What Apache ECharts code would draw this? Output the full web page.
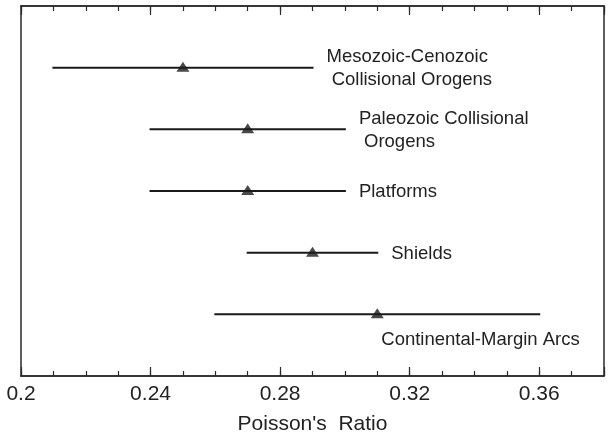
<!DOCTYPE html>
<html>
<head>
<meta charset="utf-8">
<script src="https://cdn.jsdelivr.net/npm/echarts@6/dist/echarts.min.js"></script>
<style>
  html, body { margin: 0; padding: 0; background: #fff; }
  #chart { width: 609px; height: 440px; }
</style>
</head>
<body>
<div id="chart"></div>
<script>
// Poisson's ratio ranges by crustal province
const provinces = [
  'Mesozoic-Cenozoic\n Collisional Orogens',
  'Paleozoic Collisional\n Orogens',
  'Platforms',
  'Shields',
  'Continental-Margin Arcs'
];
const lowValues  = [0.21, 0.24, 0.24, 0.27, 0.26];
const highValues = [0.29, 0.30, 0.30, 0.31, 0.36];
const meanValues = [0.25, 0.27, 0.27, 0.29, 0.31];
const xTickLabels = ['0.2', '0.24', '0.28', '0.32', '0.36'];

const X_MIN = 0.2, X_MAX = 0.38;
const INK = '#1a1a1a';
const FONT = '"Liberation Sans", Arial, sans-serif';

// row index along the vertical value axis (1..n), axis spans 0..n+1
const rows = provinces.map((_, i) => i + 1);
const rangeData = provinces.map((_, i) => [lowValues[i], highValues[i], meanValues[i], rows[i]]);
const meanData = provinces.map((_, i) => [meanValues[i], rows[i]]);

const chart = echarts.init(document.getElementById('chart'), null, { renderer: 'canvas' });

function baseX(extra) {
  return Object.assign({
    type: 'value', min: X_MIN, max: X_MAX,
    axisLine: { show: true, onZero: false, lineStyle: { color: '#2a2a2a', width: 1.5 } },
    splitLine: { show: false },
    axisLabel: { show: false }
  }, extra);
}

const option = {
  animation: false,
  backgroundColor: '#fff',
  grid: { left: 21, right: 5, top: 6, bottom: 61 },
  xAxis: [
    // bottom: long ticks + labels
    baseX({
      position: 'bottom', interval: 0.04,
      axisTick: { inside: true, length: 9, lineStyle: { color: '#2a2a2a', width: 1.2 } },
      axisLabel: {
        show: true, margin: 8, color: '#222', fontSize: 21, fontFamily: FONT,
        formatter: v => {
          const s = String(+v.toFixed(2));
          return xTickLabels.indexOf(s) >= 0 ? s : '';
        }
      },
      name: "Poisson's  Ratio", nameLocation: 'middle', nameGap: 38,
      nameTextStyle: { color: '#222', fontSize: 21, fontFamily: FONT }
    }),
    // bottom: short minor ticks
    baseX({
      position: 'bottom', interval: 0.01,
      axisTick: { inside: true, length: 5, lineStyle: { color: '#2a2a2a', width: 1.2 } }
    }),
    // top: long ticks
    baseX({
      position: 'top', interval: 0.04,
      axisTick: { inside: true, length: 9, lineStyle: { color: '#2a2a2a', width: 1.2 } }
    }),
    // top: short minor ticks
    baseX({
      position: 'top', interval: 0.01,
      axisTick: { inside: true, length: 5, lineStyle: { color: '#2a2a2a', width: 1.2 } }
    })
  ],
  yAxis: [
    {
      type: 'value', min: 0, max: provinces.length + 1, inverse: true, position: 'left',
      axisLine: { show: true, onZero: false, lineStyle: { color: '#2a2a2a', width: 1.5 } },
      axisTick: { show: false }, axisLabel: { show: false }, splitLine: { show: false }
    },
    {
      type: 'value', min: 0, max: provinces.length + 1, inverse: true, position: 'right',
      axisLine: { show: true, onZero: false, lineStyle: { color: '#2a2a2a', width: 1.5 } },
      axisTick: { show: false }, axisLabel: { show: false }, splitLine: { show: false }
    }
  ],
  series: [
    {
      type: 'custom',
      xAxisIndex: 0, yAxisIndex: 0,
      data: rangeData,
      renderItem: function (params, api) {
        const i = params.dataIndex;
        const y = api.value(3);
        const lo = api.coord([api.value(0), y]);
        const hi = api.coord([api.value(1), y]);
        const mid = api.coord([api.value(2), y]);
        const below = i === provinces.length - 1;
        const font = '18.5px ' + FONT;
        const text = below
          ? { type: 'text', style: { text: provinces[i], x: mid[0] + 4, y: mid[1] + 26,
              align: 'left', verticalAlign: 'middle', fill: '#222', font: font, lineHeight: 23 } }
          : { type: 'text', style: { text: provinces[i], x: hi[0] + 14, y: hi[1] + 1,
              align: 'left', verticalAlign: 'middle', fill: '#222', font: font, lineHeight: 23 } };
        return {
          type: 'group',
          children: [
            { type: 'line', shape: { x1: lo[0], y1: lo[1], x2: hi[0], y2: hi[1] },
              style: { stroke: INK, lineWidth: 2, lineCap: 'square' } },
            text
          ]
        };
      },
      z: 2
    },
    {
      type: 'scatter',
      xAxisIndex: 0, yAxisIndex: 0,
      data: meanData,
      symbol: 'triangle',
      symbolSize: [13, 10],
      symbolOffset: [0, -1],
      itemStyle: { color: INK },
      z: 3
    }
  ]
};

chart.setOption(option);
</script>
</body>
</html>
